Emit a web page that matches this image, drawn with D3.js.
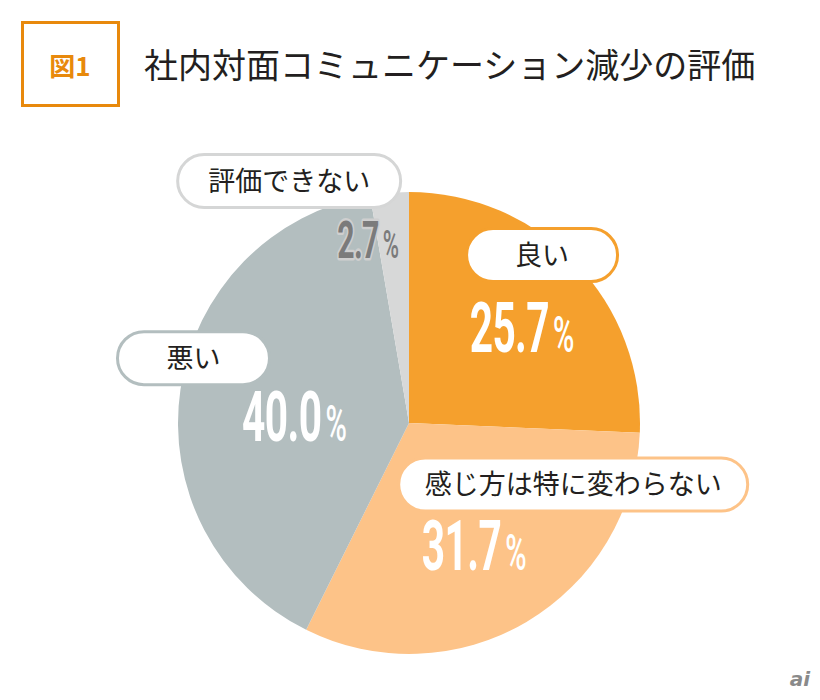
<!DOCTYPE html>
<html><head><meta charset="utf-8">
<script src="https://cdn.jsdelivr.net/npm/d3@7"></script>
<style>body{margin:0;background:#fff}</style>
</head><body><svg id="c" width="820" height="700"></svg>
<script>
// ---- data ----
const categories = ["良い", "感じ方は特に変わらない", "悪い", "評価できない"];
const values = [25.7, 31.7, 40.0, 2.7];
const valueLabels = ["25.7", "31.7", "40.0", "2.7"];
const colors = ["#F5A02D", "#FDC388", "#B3BEBF", "#D7D8D8"];
const borderColors = ["#F5A02D", "#FDC388", "#B3BEBF", "#D5D6D6"];
const title = "社内対面コミュニケーション減少の評価";
const figLabel = "図1";

// ---- layout ----
const cx = 409, cy = 423, R = 231, rho = 140;
const pctNudge = [[12, 26], [-6, 26], [24, 38], [-29, -25.5]];
const pillNudge = [[32, -71], [93, -59], [-77, -44.5], [-108, -102.5]];
const pillW = [151, 349, 152, 223];
const pillH = 53;
const numSize = [70, 70, 70, 52];
const pctSize = [50, 50, 50, 38];
const numFill = ["#fff", "#fff", "#fff", "#7b7b7b"];

const svg = d3.select("#c");

// header box
svg.append("rect").attr("x", 22.5).attr("y", 22.5).attr("width", 96).attr("height", 83)
  .attr("fill", "none").attr("stroke", "#E8890C").attr("stroke-width", 3);
svg.append("text").attr("x", 70).attr("y", 76).attr("text-anchor", "middle")
  .attr("font-family", "'Noto Sans CJK JP'").attr("font-weight", 700)
  .attr("font-size", 26).attr("fill", "#E8890C").text(figLabel);
svg.append("text").attr("x", 144).attr("y", 78)
  .attr("font-family", "'Noto Sans CJK JP'").attr("font-weight", 400)
  .attr("font-size", 34).attr("fill", "#231F20").text(title);

// pie
const pie = d3.pie().sort(null).value(d => d)(values);
const arc = d3.arc().innerRadius(0).outerRadius(R);
const labelArc = d3.arc().innerRadius(rho).outerRadius(rho);
const g = svg.append("g").attr("transform", `translate(${cx},${cy})`);
g.selectAll("path.slice").data(pie).join("path").attr("class", "slice")
  .attr("d", arc).attr("fill", (d, i) => colors[i]);

// percentage labels
pie.forEach((d, i) => {
  const c = labelArc.centroid(d);
  const x = c[0] + pctNudge[i][0], y = c[1] + pctNudge[i][1];
  const tg = g.append("g").attr("transform", `translate(${x},${y}) scale(0.58,1)`);
  const t = tg.append("text").attr("text-anchor", "middle")
    .attr("font-family", "Roboto").attr("font-weight", 700)
    .attr("fill", numFill[i]);
  if (i === 3) t.attr("stroke", "#CFCFCF").attr("stroke-width", 5).attr("paint-order", "stroke").attr("stroke-linejoin", "round");
  t.append("tspan").attr("font-size", numSize[i]).attr("letter-spacing", -1).text(valueLabels[i]);
  t.append("tspan").attr("font-size", pctSize[i]).attr("font-weight", 500).attr("dx", 7).attr("stroke", "none").text("%");
});

// category pills
pie.forEach((d, i) => {
  const c = labelArc.centroid(d);
  const x = c[0] + pillNudge[i][0], y = c[1] + pillNudge[i][1];
  const pg = g.append("g").attr("transform", `translate(${x},${y})`);
  pg.append("rect").attr("x", -pillW[i] / 2).attr("y", -pillH / 2)
    .attr("width", pillW[i]).attr("height", pillH)
    .attr("rx", pillH / 2).attr("ry", pillH / 2)
    .attr("fill", "#fff").attr("stroke", borderColors[i]).attr("stroke-width", 3);
  pg.append("text").attr("text-anchor", "middle").attr("dy", "0.36em")
    .attr("font-family", "'Noto Sans CJK JP'").attr("font-weight", 400)
    .attr("font-size", 27).attr("fill", "#231F20").text(categories[i]);
});

// logo
svg.append("text").attr("x", 800).attr("y", 686).attr("text-anchor", "middle")
  .attr("font-family", "'DejaVu Sans'").attr("font-style", "italic").attr("font-weight", 700)
  .attr("font-size", 20).attr("fill", "#8a8a8a").text("ai");
</script>
</body></html>
